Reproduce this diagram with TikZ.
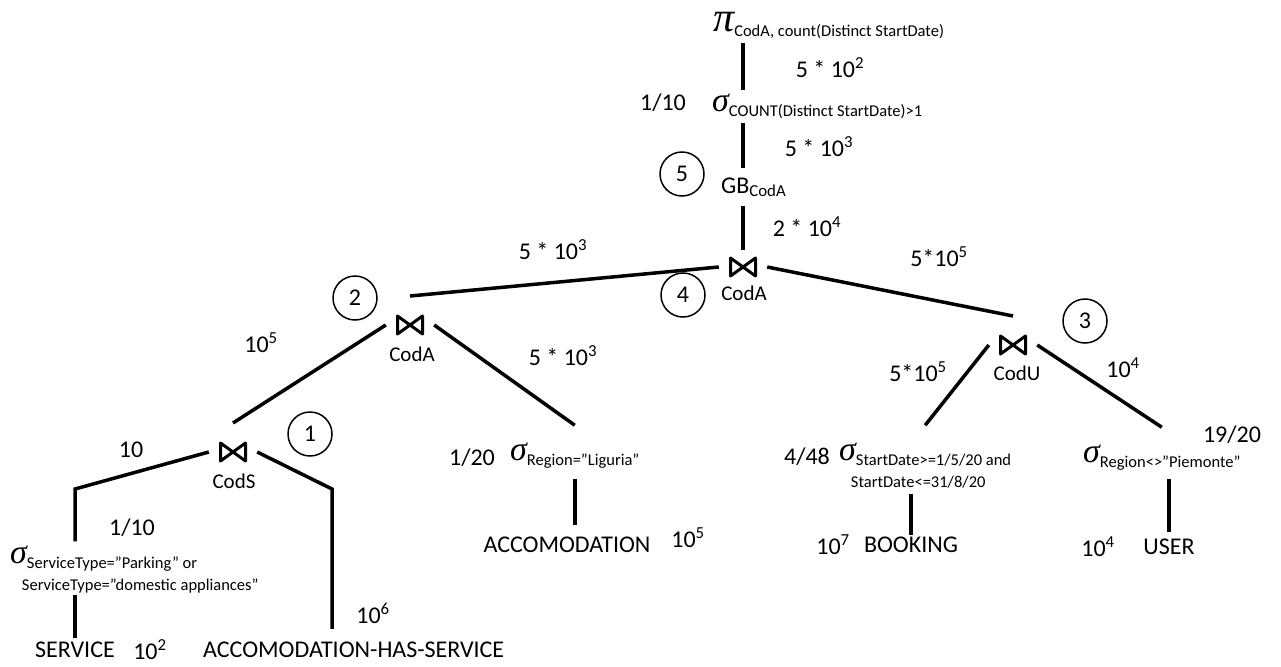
\documentclass[tikz,border=0pt]{standalone}
\usepackage{fontspec}
\usepackage{tikz}
\setmainfont{Carlito}
\newfontfamily\greekfont{Liberation Serif}
\usetikzlibrary{positioning, calc}

% operator symbol followed by its lowered condition
\newcommand{\relOp}[3]{{\fontsize{#1}{#1}\selectfont\greekfont\itshape #2}\raisebox{-5pt}{\fontsize{16.5}{22}\selectfont #3}}
\newcommand{\twoRows}[2]{\begin{tabular}[t]{@{}l@{}}#1\\\hspace*{-5pt}#2\end{tabular}}

\tikzset{
    lbl/.style={font=\fontsize{24}{28}\selectfont, inner sep=0pt},
    keyLbl/.style={font=\fontsize{21}{24}\selectfont, inner sep=0pt},
    opNode/.style={anchor=base west, inner xsep=0pt, inner ysep=4pt},
    joinOp/.style={minimum width=48pt, minimum height=20pt, inner sep=0pt},
    joinTip/.style={yshift=29pt},
    bowLine/.style={line width=3pt, line join=round},
    stepNum/.style={
        circle,
        draw,
        line width=1.5pt,
        minimum size=44pt,
        inner sep=0pt,
        font=\fontsize{24}{28}\selectfont
    },
    edge/.style={line width=3.5pt}
}

\begin{document}
\begin{tikzpicture}[x=1pt, y=-1pt]
    \useasboundingbox (0,0) rectangle (1281,666);

    % operators
    \node[opNode] (projTop) at (713,32) {\relOp{42}{π}{CodA, count(Distinct StartDate)}};
    \node[opNode] (selCount) at (712,112) {\relOp{34}{σ}{COUNT(Distinct StartDate)>1}};
    \node[lbl, anchor=base west, inner ysep=9pt] (groupBy) at (721,193) {GB\textsubscript{CodA}};
    \node[joinOp] (joinTop) at (743,267) {};
    \node[keyLbl] (keyTop) at (744,293) {CodA};
    \node[joinOp] (joinLeft) at (410,325) {};
    \node[keyLbl] (keyLeft) at (412,354) {CodA};
    \node[joinOp] (joinServ) at (233,452) {};
    \node[keyLbl] (keyServ) at (234,481) {CodS};
    \node[joinOp] (joinRight) at (1013,345) {};
    \node[keyLbl] (keyRight) at (1017,373) {CodU};

    % join symbols
    \foreach \j in {joinTop, joinLeft, joinServ, joinRight}
        \draw[bowLine] ([shift={(-12.5,-9)}]\j.center) -- ([shift={(12.5,9)}]\j.center)
            -- ([shift={(12.5,-9)}]\j.center) -- ([shift={(-12.5,9)}]\j.center) -- cycle;

    \node[opNode] (selServ) at (10,563) {\relOp{34}{σ}{\twoRows{ServiceType=”Parking” or}{ServiceType=”domestic appliances”}}};
    \node[opNode] (selLig) at (510,460) {\relOp{34}{σ}{Region=”Liguria”}};
    \node[opNode] (selDate) at (839,460) {\relOp{34}{σ}{\twoRows{StartDate>=1/5/20 and}{StartDate<=31/8/20}}};
    \node[opNode] (selPie) at (1083,462) {\relOp{34}{σ}{Region<>”Piemonte”}};

    % base relations
    \node[lbl] (relServ) at (75,650) {SERVICE};
    \node[lbl, anchor=west] (relAhs) at (203,650) {ACCOMODATION-HAS-SERVICE};
    \node[lbl] (relAcc) at (567,545) {ACCOMODATION};
    \node[lbl] (relBook) at (911,545) {BOOKING};
    \node[lbl] (relUser) at (1169,547) {USER};

    % sizes and selectivities
    \node[lbl] (sizeProj) at (830,68) {5 * 10\textsuperscript{2}};
    \node[lbl] (rateCount) at (663,103) {1/10};
    \node[lbl] (sizeCount) at (819,147) {5 * 10\textsuperscript{3}};
    \node[lbl] (sizeGroup) at (807,227) {2 * 10\textsuperscript{4}};
    \node[lbl] (sizeLeft) at (553,250) {5 * 10\textsuperscript{3}};
    \node[lbl] (sizeRight) at (939,257) {5*10\textsuperscript{5}};
    \node[lbl] (sizeServJoin) at (261,343) {10\textsuperscript{5}};
    \node[lbl] (sizeLig) at (563,356) {5 * 10\textsuperscript{3}};
    \node[lbl] (sizeSelServ) at (131,450) {10};
    \node[lbl] (rateServ) at (132,528) {1/10};
    \node[lbl] (sizeServ) at (150,650) {10\textsuperscript{2}};
    \node[lbl] (sizeAhs) at (373,613) {10\textsuperscript{6}};
    \node[lbl] (rateLig) at (472,458) {1/20};
    \node[lbl] (sizeAcc) at (688,538) {10\textsuperscript{5}};
    \node[lbl] (sizeDate) at (918,372) {5*10\textsuperscript{5}};
    \node[lbl] (sizePie) at (1123,368) {10\textsuperscript{4}};
    \node[lbl] (rateDate) at (807,457) {4/48};
    \node[lbl] (sizeBook) at (833,545) {10\textsuperscript{7}};
    \node[lbl] (ratePie) at (1232,435) {19/20};
    \node[lbl] (sizeUser) at (1098,547) {10\textsuperscript{4}};

    % execution order
    \node[stepNum] (stepOne) at (310,434) {1};
    \node[stepNum] (stepTwo) at (355,298) {2};
    \node[stepNum] (stepThree) at (1085,321) {3};
    \node[stepNum] (stepFour) at (683,295) {4};
    \node[stepNum] (stepFive) at (682,174) {5};

    \coordinate (servKnee) at (75,489);
    \coordinate (ahsKnee) at (332,489);

    % tree edges
    \draw[edge] (projTop.south -| joinTop) -- (selCount.north -| joinTop);
    \draw[edge] (selCount.south -| joinTop) -- (groupBy.north -| joinTop);
    \draw[edge, shorten >=17pt] (groupBy.south -| joinTop) -- (joinTop.center);
    \draw[edge] (joinTop.west) -- ([joinTip]joinLeft.center);
    \draw[edge] (joinTop.east) -- ([joinTip]joinRight.center);
    \draw[edge] (joinLeft.west) -- ([joinTip]joinServ.center);
    \draw[edge] (joinLeft.east) -- ([yshift=13pt]selLig.north);
    \draw[edge, shorten <=7pt, shorten >=12pt] (selLig.south) -- (selLig.south |- relAcc.north);
    \draw[edge] (joinServ.west) -- (servKnee) -- (servKnee |- selServ.north);
    \draw[edge, shorten <=-6pt, shorten >=4pt] (servKnee |- selServ.south) -- (servKnee |- relServ.north);
    \draw[edge, shorten >=13pt] (joinServ.east) -- (ahsKnee) -- (ahsKnee |- relAhs.north);
    \draw[edge] (joinRight.west) -- ([yshift=13pt]selDate.north);
    \draw[edge] (joinRight.east) -- ([yshift=13pt]selPie.north);
    \draw[edge, shorten <=-4pt, shorten >=2pt] (relBook.north |- selDate.south) -- (relBook.north);
    \draw[edge, shorten <=5pt, shorten >=7pt] (relUser.north |- selPie.south) -- (relUser.north);
\end{tikzpicture}
\end{document}
